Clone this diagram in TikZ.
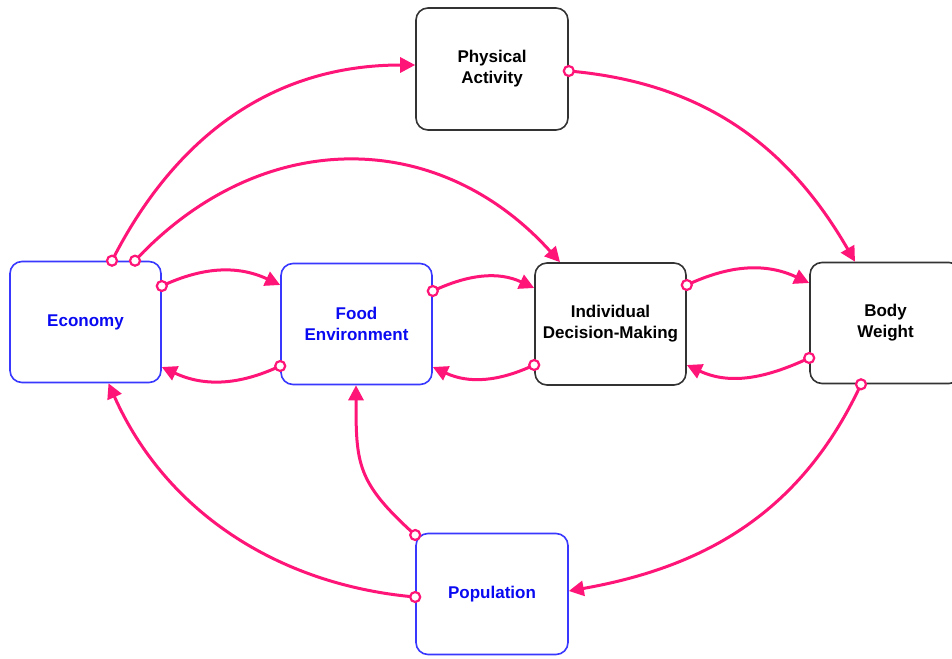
\documentclass[tikz,border=0pt]{standalone}
\usepackage{fontspec}
\setmainfont{Liberation Sans}
\usetikzlibrary{arrows.meta}
\definecolor{linkpink}{HTML}{FF1478}
\definecolor{edgeblue}{HTML}{3838FF}
\definecolor{textblue}{HTML}{0A0AF2}
\definecolor{edgegray}{HTML}{333333}
\begin{document}
\begin{tikzpicture}[x=1pt,y=1pt,
  box/.style={rectangle, rounded corners=12pt, minimum width=151pt,
    minimum height=121pt, line width=1.6pt, align=center, fill=white,
    font=\fontsize{17}{21}\selectfont\bfseries},
  extbox/.style={box, draw=edgegray, text=black},
  sysbox/.style={box, draw=edgeblue, text=textblue},
  link/.style={draw=linkpink, line width=3pt,
    -{Triangle[length=15pt,width=15pt]}},
  port/.style={circle, draw=linkpink, fill=white, line width=2.2pt,
    inner sep=0pt, minimum size=10pt}]
\useasboundingbox (0,0) rectangle (952,-658);
\fill[white] (0,0) rectangle (952,-658);

% factors
\node[extbox, minimum width=152pt, minimum height=122pt] (pa) at (492,-69) {Physical\\Activity};
\node[sysbox] (eco) at (85.5,-322) {Economy};
\node[sysbox] (fe) at (356.5,-324) {Food\\Environment};
\node[extbox, minimum height=122pt] (idm) at (610.5,-324) {Individual\\Decision-Making};
\node[extbox] (bw) at (885.5,-323) {Body\\Weight};
\node[sysbox, minimum width=152pt] (pop) at (492,-594) {Population};

% long-range influences
\draw[link] ([xshift=26.5pt]eco.north) node[port]{} to[out=63,in=180] ([yshift=4pt]pa.west);
\draw[link] ([xshift=49.5pt]eco.north) node[port]{} to[out=47,in=132,looseness=1.1] ([xshift=-50.5pt]idm.north);
\draw[link] ([yshift=-2pt]pa.east) node[port]{} to[out=-5,in=120] ([xshift=-30.5pt]bw.north);
\draw[link] ([xshift=-24.5pt]bw.south) node[port]{} to[out=245,in=10] ([yshift=3pt]pop.east);
\draw[link] ([yshift=-3pt]pop.west) node[port]{} to[out=175,in=-66,looseness=0.95] ([xshift=23pt]eco.south);
\draw[link] ([yshift=59pt]pop.west) node[port]{} to[out=138,in=-90,looseness=1.25] ([xshift=-0.5pt]fe.south);

% neighbour feedback pairs
\draw[link] ([yshift=36pt]eco.east) node[port]{} to[out=25,in=155] ([yshift=39pt]fe.west);
\draw[link] ([yshift=-42pt]fe.west) node[port]{} to[out=205,in=-25] ([yshift=-45pt]eco.east);
\draw[link] ([yshift=33pt]fe.east) node[port]{} to[out=25,in=155] ([yshift=36pt]idm.west);
\draw[link] ([yshift=-41pt]idm.west) node[port]{} to[out=205,in=-25] ([yshift=-43pt]fe.east);
\draw[link] ([yshift=39pt]idm.east) node[port]{} to[out=25,in=155] ([yshift=40pt]bw.west);
\draw[link] ([yshift=-35pt]bw.west) node[port]{} to[out=205,in=-25] ([yshift=-41pt]idm.east);
\end{tikzpicture}
\end{document}
